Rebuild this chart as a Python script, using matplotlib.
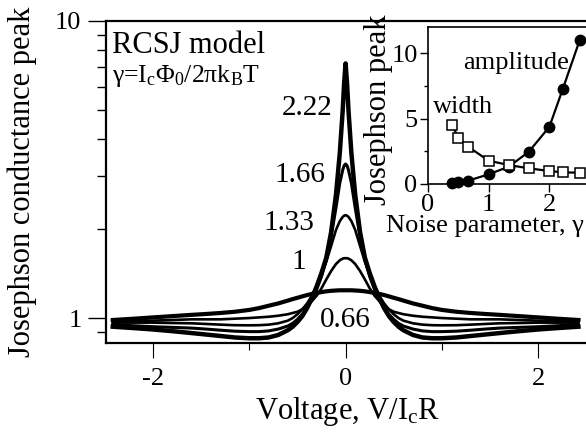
import matplotlib
matplotlib.use("Agg")
import matplotlib.pyplot as plt
from matplotlib.ticker import LogLocator, FixedLocator, FixedFormatter, NullFormatter

plt.rcParams['font.family'] = ['Liberation Serif', 'DejaVu Serif']
plt.rcParams['mathtext.fontset'] = 'custom'
plt.rcParams['mathtext.rm'] = 'Liberation Serif'
plt.rcParams['mathtext.it'] = 'Liberation Serif:italic'
plt.rcParams['mathtext.bf'] = 'Liberation Serif:bold'
plt.rcParams['axes.unicode_minus'] = False

# main panel: conductance vs voltage, read for V >= 0 (the curves are even in V)
v_half = [0.0, 0.015, 0.03, 0.06, 0.1, 0.15, 0.2, 0.25, 0.3, 0.35, 0.4, 0.45, 0.5, 0.55,
          0.6, 0.7, 0.8, 0.9, 1.0, 1.15, 1.3, 1.45, 1.6, 1.8, 2.0, 2.2, 2.42]
g222 = [7.2, 6.2, 5.0, 3.6, 2.6, 1.95, 1.6, 1.42, 1.28, 1.17, 1.08, 1.015, 0.97, 0.935,
        0.91, 0.877, 0.86, 0.855, 0.855, 0.86, 0.87, 0.88, 0.89, 0.903, 0.915, 0.925, 0.935]
g166 = [3.3, 3.26, 3.15, 2.85, 2.35, 1.88, 1.57, 1.38, 1.25, 1.15, 1.08, 1.03, 0.99, 0.96,
        0.94, 0.918, 0.905, 0.9, 0.9, 0.903, 0.91, 0.918, 0.925, 0.93, 0.935, 0.942, 0.95]
g133 = [2.22, 2.21, 2.19, 2.12, 1.98, 1.75, 1.55, 1.4, 1.28, 1.19, 1.12, 1.07, 1.03, 1.0,
        0.98, 0.96, 0.95, 0.946, 0.945, 0.946, 0.95, 0.955, 0.96, 0.962, 0.965, 0.965, 0.965]
g100 = [1.59, 1.59, 1.585, 1.565, 1.52, 1.44, 1.35, 1.26, 1.19, 1.14, 1.1, 1.07, 1.05, 1.04,
        1.03, 1.018, 1.01, 1.005, 1.0, 0.995, 0.99, 0.99, 0.99, 0.985, 0.98, 0.978, 0.975]
g066 = [1.24, 1.24, 1.24, 1.24, 1.238, 1.235, 1.23, 1.223, 1.215, 1.206, 1.195, 1.183, 1.17, 1.158,
        1.145, 1.12, 1.1, 1.08, 1.065, 1.05, 1.04, 1.032, 1.025, 1.015, 1.005, 0.995, 0.985]
curve_labels = ['2.22', '1.66', '1.33', '1', '0.66']

# inset: peak amplitude and width vs noise parameter
gam = [0.4, 0.5, 0.66, 1.0, 1.33, 1.66, 2.0, 2.22, 2.5]
amp = [0.05, 0.18, 0.25, 0.74, 1.32, 2.46, 4.37, 7.25, 11.0]
wid = [4.5, 3.49, 2.85, 1.78, 1.45, 1.2, 0.99, 0.89, 0.86]


def both_sides(half):
    # mirror the V >= 0 reading onto V < 0
    return half[:0:-1] + half


v = [-x for x in v_half[:0:-1]] + v_half

fig = plt.figure(figsize=(5.86, 4.32), dpi=100)
ax = fig.add_axes([0.1809, 0.206, 0.8259, 0.7454])

ax.plot(v, both_sides(g066), color='black', lw=3.0, solid_joinstyle='round')
ax.plot(v, both_sides(g100), color='black', lw=1.9, solid_joinstyle='round')
ax.plot(v, both_sides(g133), color='black', lw=1.9, solid_joinstyle='round')
ax.plot(v, both_sides(g166), color='black', lw=2.2, solid_joinstyle='round')
ax.plot(v, both_sides(g222), color='black', lw=3.2, solid_joinstyle='round')

ax.set_yscale('log')
ax.set_ylim(0.824, 10)
ax.set_xlim(-2.49, 2.54)
ax.yaxis.set_major_locator(FixedLocator([1, 10]))
ax.yaxis.set_major_formatter(FixedFormatter(['1', '10']))
ax.yaxis.set_minor_locator(LogLocator(base=10, subs=range(2, 10)))
ax.yaxis.set_minor_formatter(NullFormatter())
ax.xaxis.set_major_locator(FixedLocator([-2, 0, 2]))
ax.xaxis.set_minor_locator(FixedLocator([-1, 1]))
ax.tick_params(axis='y', which='major', length=12.7, width=1, labelsize=19, pad=5)
ax.tick_params(axis='y', which='minor', length=6.5, width=1)
ax.tick_params(axis='x', which='major', length=11, width=0.8, labelsize=19, pad=7)
ax.tick_params(axis='x', which='minor', length=5, width=0.8)
for s in ax.spines.values():
    s.set_linewidth(1.6)

ax.set_xlabel(r'Voltage, V/I$_{\rm c}$R', fontsize=22)
ax.set_ylabel('Josephson conductance peak', fontsize=22)
ax.xaxis.set_label_coords(0.5, -0.16)
ax.yaxis.set_label_coords(-0.143, 0.5)

ax.text(-2.43, 7.8, 'RCSJ model', fontsize=22, va='baseline', ha='left')
ax.text(-2.43, 6.24, 'γ=I$_{\\rm c}$Φ$_0$/2πk$_{\\rm B}$T', fontsize=18.5, va='baseline', ha='left')

ax.text(-0.14, 5.1, curve_labels[0], fontsize=21, ha='right', va='center')
ax.text(-0.21, 3.03, curve_labels[1], fontsize=21, ha='right', va='center')
ax.text(-0.32, 2.09, curve_labels[2], fontsize=21, ha='right', va='center')
ax.text(-0.49, 1.54, curve_labels[3], fontsize=21, ha='center', va='center')
ax.text(-0.265, 0.985, curve_labels[4], fontsize=21, ha='left', va='center')

# inset
ins = fig.add_axes([0.7304, 0.5741, 0.2765, 0.3634])
ins.plot(gam, amp, color='black', lw=1.6, marker='o', ms=7.5, mfc='black', clip_on=False)
ins.plot(gam, wid, color='black', lw=1.6, marker='s', ms=7.5, mfc='white', mew=1.1, clip_on=False)
ins.set_xlim(0, 2.67)
ins.set_ylim(0, 12)
ins.xaxis.set_major_locator(FixedLocator([0, 1, 2]))
ins.yaxis.set_major_locator(FixedLocator([0, 5, 10]))
ins.yaxis.set_minor_locator(FixedLocator([2.5, 7.5]))
ins.tick_params(axis='both', which='major', length=5.5, width=1, labelsize=19, pad=2)
ins.tick_params(axis='y', which='minor', length=3, width=1)
for s in ins.spines.values():
    s.set_linewidth(1.2)
ins.set_xlabel('Noise parameter, γ', fontsize=19)
ins.set_ylabel('Josephson peak', fontsize=22)
ins.xaxis.set_label_coords(0.352, -0.2)
ins.yaxis.set_label_coords(-0.215, 0.47)
ins.text(0.58, 9.24, 'amplitude', fontsize=19, va='center', ha='left')
ins.text(0.08, 5.9, 'width', fontsize=19, va='center', ha='left')

fig.savefig('out.png', dpi=100)
